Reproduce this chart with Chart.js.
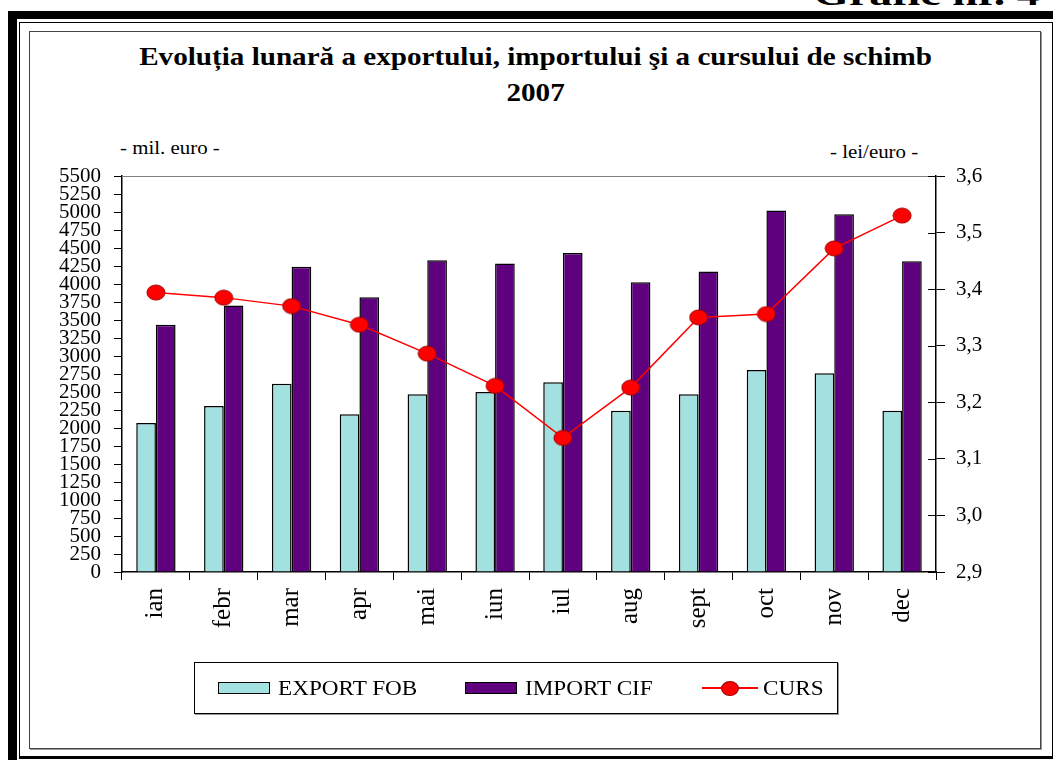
<!DOCTYPE html>
<html>
<head>
<meta charset="utf-8">
<script src="https://cdn.jsdelivr.net/npm/chart.js@4"></script>
<style>
  body { margin: 0; background: #fff; width: 1053px; height: 760px; overflow: hidden; position: relative;
         font-family: "Liberation Serif", "Times New Roman", serif; color: #000; }
  .abs { position: absolute; }
  #outer { left: 8px; top: 11px; width: 1100px; height: 800px; border-left: 9px solid #000; border-top: 8px solid #000; }
  #mid { left: 19px; top: 22px; width: 1032px; height: 733px; border: 1px solid #000; border-bottom-width: 3px; }
  #inner { left: 29px; top: 31px; width: 1010px; height: 716px; border: 1px solid #444; box-shadow: 1px 1px 0 #999; }
  #grafic { right: 13px; top: -23px; font-size: 34px; font-weight: bold; line-height: 34px; transform: scaleX(1.35); transform-origin: right top; }
  #title { left: 30px; width: 1010px; top: 39px; text-align: center; font-weight: bold; font-size: 26px; line-height: 36px; transform: scaleX(1.12); transform-origin: 500px 0; }
  .unit { font-size: 19px; top: 137px; transform: scaleX(1.1); transform-origin: left top; }
  #chart { left: 0; top: 0; }
  #legend { left: 194px; top: 662px; width: 642px; height: 50px; border: 1px solid #000; box-shadow: 1px 1px 0 #999; }
  .item { position: absolute; top: 0; height: 50px; display: flex; align-items: center; font-size: 20px;
          font-family: "Liberation Serif", "Times New Roman", serif; }
  .item span.t { display: inline-block; transform: scaleX(1.16); transform-origin: left center; }
</style>
</head>
<body>
<div id="outer" class="abs"></div>
<div id="mid" class="abs"></div>
<div id="inner" class="abs"></div>
<div id="grafic" class="abs">Grafic nr. 4</div>
<div id="title" class="abs">Evoluția lunară a exportului, importului şi a cursului de schimb<br>2007</div>
<div class="abs unit" style="left:120px">- mil. euro -</div>
<div class="abs unit" style="left:830px; top:141px">- lei/euro -</div>
<canvas id="chart" class="abs" width="1053" height="760"></canvas>
<div id="legend" class="abs"></div>
<script>
const months = ['ian', 'febr', 'mar', 'apr', 'mai', 'iun', 'iul', 'aug', 'sept', 'oct', 'nov', 'dec'];
const exportFob = [2070, 2305, 2615, 2190, 2470, 2500, 2635, 2240, 2470, 2805, 2760, 2240];
const importCif = [3435, 3700, 4240, 3815, 4330, 4285, 4430, 4025, 4175, 5020, 4970, 4315];
const curs = [3.394, 3.385, 3.370, 3.337, 3.286, 3.229, 3.137, 3.226, 3.350, 3.356, 3.472, 3.530];

const serif = '"Liberation Serif", "Times New Roman", serif';

// flat red marker, a bit wider than tall like in the original
function makeDot(w, h) {
  const c = document.createElement('canvas');
  c.width = w + 2;
  c.height = h + 2;
  const g = c.getContext('2d');
  g.beginPath();
  g.ellipse(c.width / 2, c.height / 2, w / 2, h / 2, 0, 0, Math.PI * 2);
  g.fillStyle = '#ff0000';
  g.fill();
  g.strokeStyle = '#a00000';
  g.lineWidth = 1;
  g.stroke();
  return c;
}
const dot = makeDot(18, 15);

// top border of the plot + inner half of the right axis ticks
const frameLines = {
  id: 'frameLines',
  afterDraw(chart) {
    const { ctx, chartArea: a, scales } = chart;
    ctx.save();
    ctx.strokeStyle = '#808080';
    ctx.lineWidth = 1;
    ctx.beginPath();
    ctx.moveTo(a.left, a.top + 0.5);
    ctx.lineTo(a.right, a.top + 0.5);
    ctx.stroke();
    ctx.strokeStyle = '#000';
    ctx.beginPath();
    scales.y1.ticks.forEach(t => {
      const y = Math.round(scales.y1.getPixelForValue(t.value)) + 0.5;
      ctx.moveTo(a.right - 8, y);
      ctx.lineTo(a.right, y);
    });
    ctx.stroke();
    ctx.restore();
  }
};

const chart = new Chart(document.getElementById('chart'), {
  data: {
    labels: months,
    datasets: [
      {
        type: 'line',
        label: 'CURS',
        data: curs,
        yAxisID: 'y1',
        order: 0,
        borderColor: '#ff0000',
        borderWidth: 1.5,
        pointStyle: dot,
        pointRadius: 9,
        pointBackgroundColor: '#ff0000',
        pointBorderColor: '#a00000',
        tension: 0
      },
      {
        type: 'bar',
        label: 'EXPORT FOB',
        data: exportFob,
        yAxisID: 'y',
        order: 1,
        backgroundColor: '#a3e0e0',
        borderColor: '#000',
        borderWidth: 1.5,
        barPercentage: 1,
        categoryPercentage: 0.58
      },
      {
        type: 'bar',
        label: 'IMPORT CIF',
        data: importCif,
        yAxisID: 'y',
        order: 2,
        backgroundColor: '#5f007f',
        borderColor: '#000',
        borderWidth: 1.5,
        barPercentage: 1,
        categoryPercentage: 0.58
      }
    ]
  },
  options: {
    responsive: false,
    animation: false,
    layout: { padding: { left: 40, right: 40, top: 176, bottom: 88 } },
    plugins: { legend: { display: false }, tooltip: { enabled: false } },
    scales: {
      x: {
        afterFit: s => { s.height = 100; },
        grid: { drawOnChartArea: false, tickLength: 8, color: '#000', offset: true },
        border: { color: '#000', width: 1.5 },
        ticks: { minRotation: 90, maxRotation: 90, padding: 8, color: '#000', font: { family: serif, size: 25 } }
      },
      y: {
        position: 'left',
        min: 0,
        max: 5500,
        afterFit: s => { s.width = 82; },
        grid: { drawOnChartArea: false, tickLength: 8, color: '#000' },
        border: { color: '#000', width: 1.5 },
        ticks: {
          stepSize: 250,
          autoSkip: false,
          padding: 13,
          color: '#000',
          font: { family: serif, size: 21 },
          callback: v => String(v)
        }
      },
      y1: {
        position: 'right',
        min: 2.9,
        max: 3.6,
        afterFit: s => { s.width = 77; },
        grid: { drawOnChartArea: false, tickLength: 9, color: '#000' },
        border: { color: '#000', width: 1.5 },
        ticks: {
          stepSize: 0.1,
          autoSkip: false,
          padding: 11,
          color: '#000',
          font: { family: serif, size: 21 },
          callback: v => v.toFixed(1).replace('.', ',')
        }
      }
    }
  },
  plugins: [frameLines]
});

// legend built from the datasets, in the reference order
const legendPos = { 'EXPORT FOB': 23, 'IMPORT CIF': 270, 'CURS': 507 };
const legend = document.getElementById('legend');
['EXPORT FOB', 'IMPORT CIF', 'CURS'].forEach(name => {
  const ds = chart.data.datasets.find(d => d.label === name);
  const item = document.createElement('div');
  item.className = 'item';
  item.style.left = legendPos[name] + 'px';
  let sw;
  if (ds.type === 'bar') {
    sw = '<div style="width:50px;height:10px;border:1.5px solid #000;background:' + ds.backgroundColor + ';margin-right:8px"></div>';
  } else {
    sw = '<div style="position:relative;width:56px;height:16px;margin-right:5px">' +
      '<div style="position:absolute;left:0;top:7px;width:56px;height:1.5px;background:' + ds.borderColor + '"></div>' +
      '<div style="position:absolute;left:19px;top:1px;width:16px;height:13px;border-radius:50%;background:' + ds.pointBackgroundColor + ';border:1px solid ' + ds.pointBorderColor + '"></div></div>';
  }
  item.innerHTML = sw + '<span class="t">' + name + '</span>';
  legend.appendChild(item);
});
</script>
</body>
</html>
